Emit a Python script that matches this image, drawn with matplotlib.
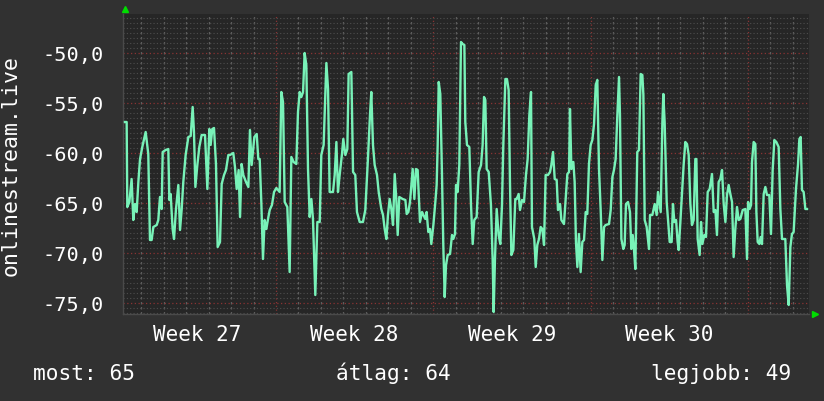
import matplotlib
matplotlib.use("Agg")
import matplotlib.pyplot as plt
from matplotlib.ticker import MultipleLocator, FuncFormatter

# hours since start of week 27, and the measured values
hours = [
    6.7, 8.5, 9.2, 11.4, 13.8, 15.6, 17.4, 19.2, 21.0, 22.8, 25.2, 28.8, 31.6, 33.4, 35.2,
    37.0, 40.6, 42.3, 44.1, 45.9, 47.0, 50.2, 53.0, 54.1, 55.5, 57.6, 59.1, 61.2, 63.7,
    65.5, 67.3, 69.0, 71.5, 74.4, 76.9, 79.0, 80.4, 81.9, 84.0, 86.1, 88.6, 92.2, 94.7,
    96.8, 98.2, 100.0, 101.8, 103.9, 105.7, 108.2, 110.0, 112.5, 114.6, 117.1, 118.9,
    122.4, 124.2, 126.0, 128.1, 129.6, 131.3, 133.1, 136.0, 138.5, 140.2, 142.0, 144.9,
    147.4, 149.1,
    150.6, 152.4, 154.1, 155.9, 157.7, 159.5, 161.3, 163.7, 165.9, 168.4, 171.9, 173.7,
    175.5, 177.3, 180.1, 182.6, 184.4, 186.9, 189.7, 191.5, 193.3, 195.1, 196.9, 198.6,
    200.4, 202.2, 204.0, 205.8, 207.5, 210.0, 212.2, 214.7, 216.4, 218.9, 221.8, 223.6,
    225.3, 228.9, 230.7, 232.5, 234.2, 236.0, 238.5, 239.9, 242.1, 244.2, 245.6, 248.5,
    250.3, 252.7, 254.5, 257.4, 260.9, 263.4, 266.3, 268.4, 269.8, 271.6, 273.4, 275.9,
    277.7, 280.5, 282.3, 284.1, 285.9, 287.6, 289.4, 291.2, 293.0, 294.8, 296.5,
    298.0, 299.7, 303.3, 306.2, 307.6, 309.4, 311.1, 312.2, 314.0, 315.8, 317.5, 319.3,
    320.4, 321.8, 324.0, 325.4, 327.5, 328.9, 330.7, 332.5, 333.9, 336.1, 338.2, 339.6,
    340.7, 341.8, 343.5, 345.3, 346.7, 348.2, 349.6, 351.4, 353.9, 356.0, 357.4, 359.2,
    360.3, 362.0, 363.8, 365.6, 367.4, 369.2, 370.2, 372.0, 374.5, 376.3, 378.1, 379.8,
    382.3, 384.5, 387.0, 388.7, 390.2, 391.6, 393.0, 395.2, 397.6, 399.4, 400.5, 401.9,
    403.7, 405.8, 407.6, 409.4, 410.8, 413.0, 414.7, 416.5, 417.9, 419.4, 421.5, 423.6,
    425.1, 427.2, 428.6, 430.8, 432.9, 435.0, 436.8, 438.6, 440.4, 441.4, 443.9,
    445.4, 447.1, 448.9, 450.7, 452.5, 454.3, 456.0, 458.5, 460.7, 462.1, 463.9, 465.7,
    467.8, 469.2, 471.4, 472.8, 475.6, 477.4, 479.2, 481.0, 482.0, 483.5, 485.6, 487.0,
    488.4, 489.9, 491.6, 493.4, 495.2, 497.0, 498.8, 500.5, 502.3, 504.1, 505.9, 507.7,
    509.5, 511.2, 513.0, 514.8, 516.6, 518.4, 520.1, 523.7, 525.5, 527.3, 529.0, 530.8,
    532.6, 534.4, 535.4, 536.9, 539.0, 540.4, 541.8, 544.0, 546.1, 547.5, 549.0, 550.4,
    551.8, 553.9, 555.7, 557.5, 559.3, 560.4, 561.8, 563.9, 566.4, 567.5, 570.0, 572.5,
    574.6, 576.0, 577.4, 578.9, 580.7, 581.7, 583.1, 585.3, 586.7, 588.5, 590.6,
    592.0, 593.5, 595.3, 597.0, 598.1, 599.9, 601.7, 603.4, 605.2, 607.0, 608.8, 610.6,
    612.3, 614.1, 615.9, 617.0, 618.4, 620.5, 622.0, 623.4, 625.5, 627.3, 629.1, 631.2,
    633.7, 635.5, 637.3, 639.0, 640.8, 642.6, 644.4, 646.2, 648.0, 649.7, 651.5, 653.3,
    655.1, 656.8, 658.6, 660.4, 662.2, 664.0, 666.5, 669.3, 671.1, 672.2, 673.9, 675.4,
    676.4, 678.2, 680.0, 681.1, 682.5, 684.3, 685.7, 687.1, 688.9, 690.7, 692.4, 694.9,
    696.7, 698.5, 700.3, 702.4, 704.9, 706.7, 708.5, 712.0, 713.8, 715.6, 717.4, 719.1,
    720.9, 723.4, 725.6, 727.0, 728.4, 729.8, 731.6, 733.4, 735.2,
]
values = [
    -56.9, -56.9, -65.4, -64.9, -62.6, -66.7, -65.1, -65.9, -62.9, -60.6, -59.4, -57.9, -60.1, -68.7, -68.7,
    -67.4, -67.2, -66.7, -64.4, -65.6, -59.9, -59.7, -59.6, -64.7, -64.1, -67.6, -68.6, -65.6, -63.2,
    -67.7, -65.6, -62.9, -60.2, -58.4, -58.3, -55.4, -57.9, -63.4, -61.2, -59.4, -58.2, -58.2, -63.6,
    -57.6, -59.2, -57.6, -57.5, -61.1, -69.4, -68.9, -63.1, -62.2, -61.7, -60.2, -60.2,
    -60.0, -61.4, -63.6, -61.7, -66.4, -61.1, -62.2, -62.9, -63.4, -57.7, -61.2, -58.4,
    -58.1, -60.6,
    -60.6, -65.1, -70.6, -66.7, -67.6, -66.6, -65.7, -65.2, -63.9, -63.5, -63.9, -53.9,
    -54.9, -64.9, -65.4, -71.9, -60.4, -60.9, -61.1, -55.9, -53.9, -54.4, -53.9, -50.0,
    -51.2, -61.6, -66.4, -64.6, -66.6, -74.2, -66.9, -66.9, -60.2, -59.2, -51.0, -53.6,
    -63.9, -63.9, -62.2, -58.9, -63.9, -62.2, -60.1, -58.6, -60.2, -59.6, -52.1, -51.9,
    -61.9, -62.2, -65.9, -66.9, -66.9, -65.7, -60.4, -56.2, -53.9, -59.2, -61.2, -62.2,
    -63.9, -65.6, -66.2, -67.6, -68.6, -66.2, -64.6, -65.6, -67.2, -62.1, -64.6,
    -68.2, -64.4, -64.6, -64.7, -66.1, -65.9, -64.9, -63.7, -61.6, -64.6, -61.6, -61.7,
    -63.9, -66.9, -65.9, -66.2, -66.6, -65.9, -67.9, -67.6, -69.1, -67.2, -64.9, -63.2,
    -59.2, -52.9, -54.1, -62.2, -69.2, -74.4, -71.2, -70.2, -70.1, -68.2, -68.6, -68.1,
    -63.2, -63.9, -61.2, -48.9, -49.1, -49.2, -56.9, -59.2, -59.4, -65.2, -69.1, -66.7,
    -66.4, -61.9, -61.2, -59.2, -54.4, -54.7, -61.6, -61.9, -65.2, -70.6, -75.9, -70.6,
    -65.6, -68.2, -69.1, -65.2, -59.2, -52.6, -52.6, -53.7, -62.9, -70.2, -69.7, -64.6,
    -64.6, -64.1, -65.7, -64.7, -64.9, -62.2, -60.6, -56.2, -53.9, -67.4, -68.6,
    -71.4, -69.2, -68.6, -67.4, -67.6, -69.2, -62.2, -62.2, -61.9, -61.2, -59.9, -62.6,
    -62.7, -65.7, -65.1, -66.7, -67.1, -64.6, -62.1, -61.9, -55.6, -61.6, -60.9, -62.9,
    -68.9, -71.4, -68.1, -71.9, -68.9, -68.7, -65.9, -66.1, -61.1, -59.2, -58.7, -57.1,
    -53.2, -52.7, -61.6, -65.7, -70.7, -67.4, -67.2, -67.1, -65.7, -62.4, -61.7, -60.6,
    -56.2, -52.4, -56.2, -68.6, -69.6, -69.2, -65.1, -64.9, -65.9, -69.6, -68.2, -69.7,
    -71.6, -59.9, -59.7, -52.1, -52.2, -54.2, -66.7, -67.4, -69.6, -66.2, -66.2, -65.1,
    -66.2, -63.9, -64.9, -65.9, -56.9, -54.1, -56.9, -64.9, -66.6, -68.9, -68.9,
    -65.1, -66.9, -66.7, -68.9, -69.7, -66.9, -63.9, -61.2, -58.9, -59.1, -60.2, -65.1,
    -67.2, -66.7, -60.6, -60.6, -68.6, -70.2, -66.9, -69.1, -68.2, -68.4, -63.9, -63.6,
    -62.1, -65.9, -65.7, -68.2, -62.9, -62.6, -61.7, -65.1, -66.9, -64.2, -63.2, -64.1,
    -64.9, -70.4, -67.6, -65.4, -66.7, -66.6, -65.7, -65.6, -70.6, -64.9, -65.6, -65.2,
    -60.9, -58.9, -59.1, -65.9, -68.9, -69.1, -68.4, -69.1, -64.1, -63.4, -64.2, -64.2,
    -68.1, -61.7, -58.7, -58.9, -59.4, -65.6, -68.6, -68.6, -73.2, -75.2, -69.4, -68.1,
    -67.9, -63.6, -61.1, -58.6, -58.4, -63.7, -63.9, -65.6, -65.6,
]

week_labels = ["Week 27", "Week 28", "Week 29", "Week 30"]
week_mid_hours = [84, 252, 420, 588]
ylabel = "onlinestream.live"
summary = ["most: 65", "átlag: 64", "legjobb: 49"]

bg = "#313131"
plot_bg = "#262626"
txt = "white"
mono = "DejaVu Sans Mono"
fs = 15.2

fig = plt.figure(figsize=(8.24, 4.02), dpi=100, facecolor=bg)
ax = fig.add_axes([123 / 824, 87 / 402, 686 / 824, 300 / 402])
ax.set_facecolor(plot_bg)

ax.plot(hours, values, color="#78f2b8", lw=1.7, zorder=3)

ax.set_xlim(4.6, 737.3)
ax.set_ylim(-76.1, -46.1)

# grid: day / week and 0.5 / 5.0 steps
ax.xaxis.set_major_locator(MultipleLocator(168))
ax.xaxis.set_minor_locator(MultipleLocator(24))
ax.yaxis.set_major_locator(MultipleLocator(5))
ax.yaxis.set_minor_locator(MultipleLocator(0.5))
ax.yaxis.grid(True, which="minor", color="#4e4e4e", ls=(0, (1, 2)), lw=0.8, zorder=1)
ax.xaxis.grid(True, which="minor", color="#5e5e5e", ls=(0, (2, 2)), lw=0.9, zorder=1)
ax.grid(which="major", color="#8a3333", ls=(0, (1, 2)), lw=0.9, zorder=1)
ax.set_axisbelow(True)

ax.yaxis.set_major_formatter(FuncFormatter(lambda v, p: f"{v:.1f}".replace(".", ",")))
ax.tick_params(axis="y", which="major", length=0, pad=14, labelsize=14.6, labelcolor=txt)
ax.tick_params(axis="y", which="minor", length=0)
ax.tick_params(axis="x", which="both", length=0, labelbottom=False)
for lab in ax.get_yticklabels():
    lab.set_family(mono)

# week labels centred in each week
sec = ax.secondary_xaxis("bottom")
sec.set_xticks(week_mid_hours)
sec.set_xticklabels(week_labels, family=mono, fontsize=15, color=txt)
sec.tick_params(length=0, pad=7)
for s in sec.spines.values():
    s.set_visible(False)

for side in ["top", "right"]:
    ax.spines[side].set_visible(False)
for side in ["left", "bottom"]:
    ax.spines[side].set_color("#4a4a4a")
    ax.spines[side].set_linewidth(1)

# green arrow heads at axis ends
ax.plot([0.003], [1.017], marker="^", color="#00dd00", markersize=5,
        transform=ax.transAxes, clip_on=False)
ax.plot([1.009], [0.0], marker=">", color="#00dd00", markersize=5,
        transform=ax.transAxes, clip_on=False)

fig.text(11 / 824, 0.5 * (87 + 387) / 402, ylabel, rotation=90, ha="center", va="center",
         family=mono, fontsize=15.5, color=txt)

fig.text(33 / 824, 22 / 402, summary[0], ha="left", va="baseline", family=mono, fontsize=fs, color=txt)
fig.text(336 / 824, 22 / 402, summary[1], ha="left", va="baseline", family=mono, fontsize=fs, color=txt)
fig.text(791 / 824, 22 / 402, summary[2], ha="right", va="baseline", family=mono, fontsize=fs, color=txt)

fig.savefig("out.png", dpi=100, facecolor=bg)
